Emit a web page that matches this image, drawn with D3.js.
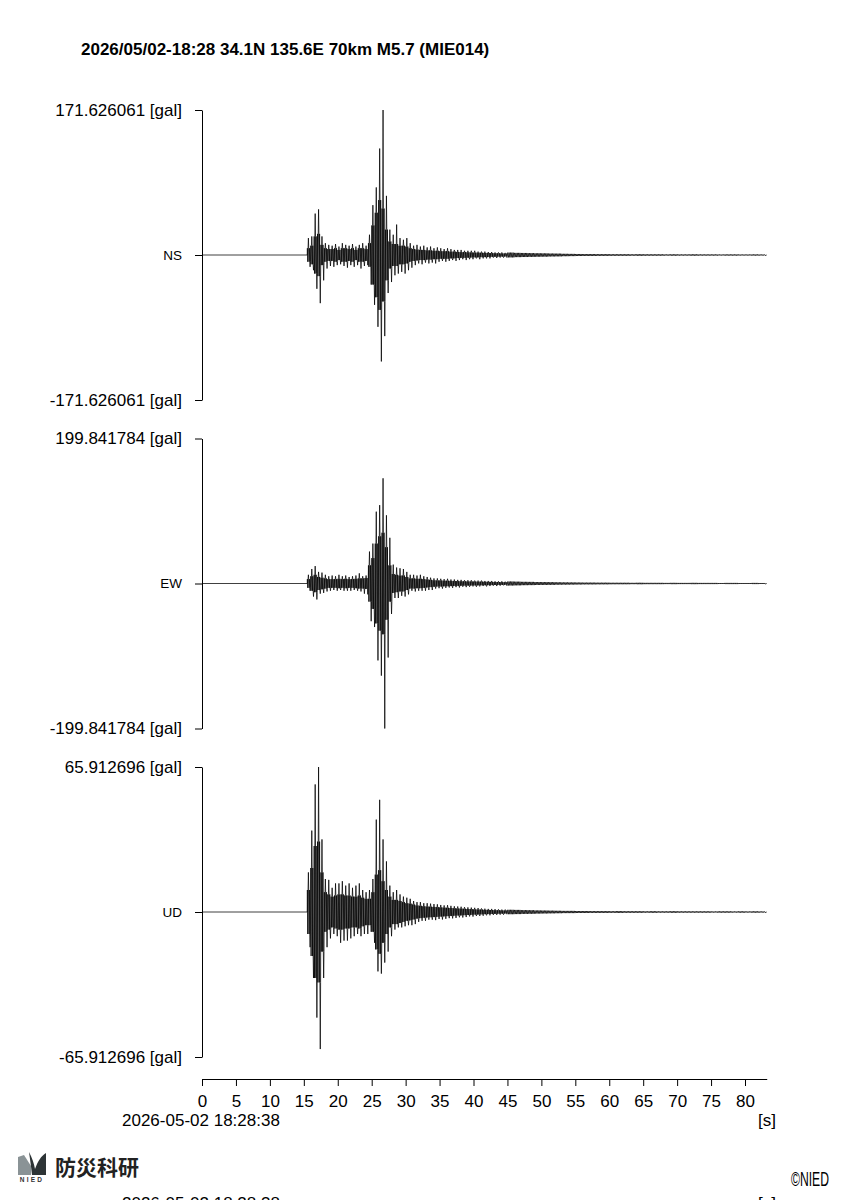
<!DOCTYPE html>
<html>
<head>
<meta charset="utf-8">
<script src="https://cdn.jsdelivr.net/npm/d3@7"></script>
<style>
  body { margin: 0; background: #fff; }
  svg { display: block; font-family: "Liberation Sans", Arial, Helvetica, sans-serif; }
</style>
</head>
<body>
<div id="chart"></div>
<script>
// header / labels
const title = '2026/05/02-18:28 34.1N 135.6E 70km M5.7 (MIE014)';
const startTime = '2026-05-02 18:28:38';
const components = ['NS', 'EW', 'UD'];
const peakGal = [171.626061, 199.841784, 65.912696];
const xTicks = [0, 5, 10, 15, 20, 25, 30, 35, 40, 45, 50, 55, 60, 65, 70, 75, 80];

// per 0.5 s window from 15.5 s to 45 s [gal]:
// max, min, and the amplitude of the dark core of the trace
const activeStart = 15.5, activeStep = 0.5;
// after 45 s: symmetric noise amplitude per 1 s window [gal]
const tailStart = 45, tailStep = 1;
const traceEnd = 83.2;

const nsHi = [20, 22, 49, 54, 22, 14, 12, 11, 13, 10, 14, 12, 11, 13, 10, 12, 14, 11,
  24, 59, 80, 126, 171.6, 70, 30, 24, 36, 20, 18, 20, 14, 11, 12, 10, 11, 9, 10,
  8, 9, 8, 7, 8, 7, 6, 6, 6, 5, 5, 5, 5, 4, 4, 4, 3.5, 3.5, 3, 3, 3, 2.5];
const nsLo = [-14, -18, -40, -57, -30, -16, -13, -14, -12, -11, -13, -15, -12, -14, -12, -16, -13, -12,
  -35, -59, -85, -126, -96, -45, -32, -24, -22, -20, -22, -18, -15, -12, -10, -11, -9, -10, -9,
  -10, -8, -7, -8, -7, -6, -7, -6, -5, -6, -5, -5, -4, -5, -4, -4, -4, -3, -3.5, -3, -3, -3];
const nsCore = [8, 11, 22, 25, 12, 8, 7, 7, 8, 6, 8, 8, 7, 8, 6, 8, 8, 7,
  14, 35, 50, 65, 55, 30, 16, 13, 13, 11, 11, 10, 8, 7, 6.5, 6, 6, 5.5, 5.5,
  5, 5, 4.5, 4.5, 4.5, 4, 4, 3.6, 3.4, 3.4, 3.2, 3, 2.8, 2.8, 2.6, 2.5, 2.4, 2.2, 2.1, 2, 1.9, 1.8];
const nsTail = [2.8, 2.5, 2.4, 2.2, 2.0, 1.9, 1.7, 1.6, 1.4, 1.3, 1.2, 1.1, 1.1, 1.0, 1.0,
  0.9, 0.9, 0.9, 0.8, 0.9, 0.8, 0.8, 0.8, 0.7, 0.8, 0.7, 0.7, 0.8, 0.7, 0.7, 0.7, 0.6,
  0.7, 0.7, 0.6, 0.6, 0.7, 0.6];

const ewHi = [12, 20, 24, 16, 15, 12, 10, 11, 10, 12, 10, 11, 9, 10, 11, 14, 10, 11,
  44, 55, 99, 108, 145, 94, 63, 26, 22, 21, 20, 16, 12, 12, 11, 12, 10, 9, 8,
  7, 7, 6.5, 6, 6.5, 5.5, 5.5, 5, 5, 4.5, 4.5, 4.5, 4, 4, 4, 3.5, 3.5, 3.5, 3, 3, 3, 2.5];
const ewLo = [-10, -18, -22, -14, -13, -11, -10, -9, -10, -9, -10, -10, -10, -9, -10, -11, -14, -15,
  -52, -60, -106, -127, -199.84, -102, -42, -20, -20, -17, -18, -15, -10, -11, -10, -10, -10, -9, -9,
  -7, -6.5, -7, -6, -5.5, -6, -5, -5.5, -4.5, -5, -4.5, -4, -4.5, -4, -3.5, -4, -3.5, -3, -3.5, -3, -2.5, -3];
const ewCore = [6, 10, 12, 9, 8, 7, 6, 6, 6, 6.5, 6, 6.5, 6, 6, 6.5, 7, 7, 7.5,
  25, 35, 55, 65, 70, 50, 25, 13, 12, 11, 11, 9, 7, 7, 6.5, 6.5, 6, 5.5, 5,
  4.5, 4.2, 4.2, 3.9, 3.8, 3.6, 3.4, 3.3, 3.1, 3, 2.9, 2.8, 2.7, 2.6, 2.5, 2.4, 2.3, 2.2, 2.1, 2, 1.9, 1.8];
const ewTail = [2.7, 2.5, 2.3, 2.2, 2.0, 1.9, 1.8, 1.6, 1.5, 1.4, 1.3, 1.2, 1.2, 1.1, 1.1,
  1.0, 1.0, 1.0, 0.9, 1.0, 0.9, 0.9, 0.9, 0.8, 0.9, 0.8, 0.8, 0.9, 0.8, 0.8, 0.8, 0.7,
  0.8, 0.8, 0.7, 0.7, 0.8, 0.7];

const udHi = [18, 37, 58, 65.9, 33, 15, 14.6, 11, 13, 13, 14, 12, 13, 11, 12, 13, 10, 9,
  10, 15, 42, 51, 33, 23, 12, 9, 10, 8, 7, 6.5, 6, 5, 4.5, 4.5, 4, 4, 3.8,
  3.6, 3.5, 3.2, 3.0, 3.1, 2.8, 2.6, 2.5, 2.4, 2.2, 2.1, 2.0, 1.9, 1.8, 1.6, 1.5, 1.4, 1.4, 1.3, 1.2, 1.1, 1.1];
const udLo = [-16, -30, -48, -62.3, -30, -16, -12, -10, -11, -14, -13, -13, -12, -11, -10, -11, -10, -10,
  -9, -14, -27, -28, -23, -18, -11, -8, -7, -7, -6.5, -6, -6, -5.5, -4.5, -4, -4, -3.5, -3.5,
  -3.7, -3.2, -3.4, -3.1, -2.8, -2.9, -2.7, -2.4, -2.5, -2.3, -2.0, -2.1, -1.8, -1.8, -1.7, -1.5, -1.5, -1.3, -1.3, -1.2, -1.2, -1.0];
const udCore = [10, 20, 30, 32, 18, 9, 8, 7, 7.5, 8, 8, 7.5, 7.5, 7, 7, 7.5, 6.5, 6,
  6, 9, 17, 19, 14, 10, 7, 5.5, 5.5, 5, 4.5, 4, 3.8, 3.4, 3, 2.8, 2.6, 2.5, 2.4,
  2.3, 2.2, 2.1, 2, 1.9, 1.8, 1.7, 1.6, 1.55, 1.45, 1.35, 1.3, 1.2, 1.15, 1.1, 1.0, 0.95, 0.9, 0.85, 0.8, 0.75, 0.7];
const udTail = [1.0, 0.95, 0.85, 0.8, 0.7, 0.65, 0.6, 0.55, 0.5, 0.5, 0.45, 0.45, 0.4, 0.4, 0.4,
  0.35, 0.4, 0.35, 0.35, 0.35, 0.3, 0.35, 0.3, 0.3, 0.35, 0.3, 0.3, 0.3, 0.3, 0.3, 0.25, 0.3,
  0.3, 0.25, 0.3, 0.25, 0.3, 0.25];

const traces = [
  { hi: nsHi, lo: nsLo, core: nsCore, tail: nsTail },
  { hi: ewHi, lo: ewLo, core: ewCore, tail: ewTail },
  { hi: udHi, lo: udLo, core: udCore, tail: udTail }
];

const width = 848;
const height = 1200;
const panelTop = [110, 438.5, 767];
const panelH = 290;

const svg = d3.select('#chart')
  .append('svg')
  .attr('width', width)
  .attr('height', height);

const x = d3.scaleLinear().domain([0, 80]).range([202, 745]);
const xFull = x.copy().domain([0, traceEnd]).range([x(0), x(traceEnd)]);

// each 0.5 s window: dense oscillation at the core amplitude,
// with one stroke out to the window max and one to the window min
function tracePoints(tr) {
  const pts = [[0, 0], [activeStart, 0]];
  tr.hi.forEach((h, i) => {
    const t = activeStart + i * activeStep;
    const c = tr.core[i];
    for (let j = 0; j < 10; j++) {
      let v = j % 2 === 0 ? c : -c;
      if (j === 3) v = h;
      if (j === 8) v = tr.lo[i];
      pts.push([t + 0.025 + j * 0.05, v]);
    }
  });
  tr.tail.forEach((a, i) => {
    const t = tailStart + i * tailStep;
    for (let j = 0; j < 10; j++) {
      pts.push([t + 0.05 + j * 0.1, j % 2 === 0 ? a : -a]);
    }
  });
  pts.push([traceEnd, 0]);
  return pts;
}

svg.append('text')
  .attr('x', 81)
  .attr('y', 55)
  .attr('font-size', 17)
  .attr('font-weight', 'bold')
  .attr('fill', '#000')
  .text(title);

components.forEach((comp, k) => {
  const p = peakGal[k];
  const y = d3.scaleLinear().domain([-p, p]).range([panelTop[k] + panelH, panelTop[k]]);
  const g = svg.append('g');

  const axis = d3.axisLeft(y)
    .tickValues([-p, 0, p])
    .tickSize(7)
    .tickPadding(13)
    .tickSizeOuter(0)
    .tickFormat(d => d === 0 ? comp : (d < 0 ? '-' : '') + p.toFixed(6) + ' [gal]');

  const ag = g.append('g')
    .attr('transform', 'translate(' + x(0) + ',0)')
    .call(axis);
  ag.attr('font-family', null).attr('font-size', null);
  ag.selectAll('path, line').attr('stroke', '#000').attr('stroke-width', 1);
  ag.selectAll('text')
    .attr('fill', '#000')
    .attr('font-size', d => d === 0 ? 13.5 : 17);

  const line = d3.line()
    .x(d => x(d[0]))
    .y(d => y(d[1]));

  g.append('path')
    .datum(tracePoints(traces[k]))
    .attr('d', line)
    .attr('fill', 'none')
    .attr('stroke', '#000')
    .attr('stroke-width', 0.75)
    .attr('stroke-linejoin', 'bevel');
});

// time axis
const xg = svg.append('g')
  .attr('transform', 'translate(0,1079)')
  .call(d3.axisBottom(xFull).tickValues(xTicks).tickSize(7).tickPadding(9).tickSizeOuter(0));
xg.attr('font-family', null).attr('font-size', null);
xg.selectAll('path, line').attr('stroke', '#000').attr('stroke-width', 1);
xg.selectAll('text').attr('fill', '#000').attr('font-size', 17);

svg.append('text')
  .attr('x', 122)
  .attr('y', 1126)
  .attr('font-size', 17)
  .text(startTime);

svg.append('text')
  .attr('x', 776)
  .attr('y', 1126)
  .attr('text-anchor', 'end')
  .attr('font-size', 17)
  .text('[s]');

// footer
const logo = svg.append('g').attr('transform', 'translate(18,1152)');
logo.append('path')
  .attr('d', 'M0,5 L6,3 L13,14 L13,23 L0,23 Z')
  .attr('fill', '#8a9396');
logo.append('path')
  .attr('d', 'M11,0 C14,6 16,11 17,17 C20,9 23,4 28,1 L28,23 L14,23 C13,14 12,7 11,0 Z')
  .attr('fill', '#2d3436');
logo.append('text')
  .attr('x', 14)
  .attr('y', 29.5)
  .attr('text-anchor', 'middle')
  .attr('font-size', 6.5)
  .attr('font-weight', 'bold')
  .attr('letter-spacing', 2.2)
  .attr('fill', '#333')
  .text('NIED');

svg.append('text')
  .attr('x', 55)
  .attr('y', 1175)
  .attr('font-family', '"Noto Sans CJK JP", sans-serif')
  .attr('font-weight', 'bold')
  .attr('font-size', 21)
  .attr('fill', '#222')
  .text('防災科研');

svg.append('text')
  .attr('transform', 'translate(829,1186) scale(0.58,1)')
  .attr('text-anchor', 'end')
  .attr('font-size', 21)
  .text('©NIED');

// clipped repeat of the time line at the bottom edge
svg.append('text')
  .attr('x', 122)
  .attr('y', 1209)
  .attr('font-size', 17)
  .text(startTime);
svg.append('text')
  .attr('x', 776)
  .attr('y', 1209)
  .attr('text-anchor', 'end')
  .attr('font-size', 17)
  .text('[s]');
</script>
</body>
</html>
